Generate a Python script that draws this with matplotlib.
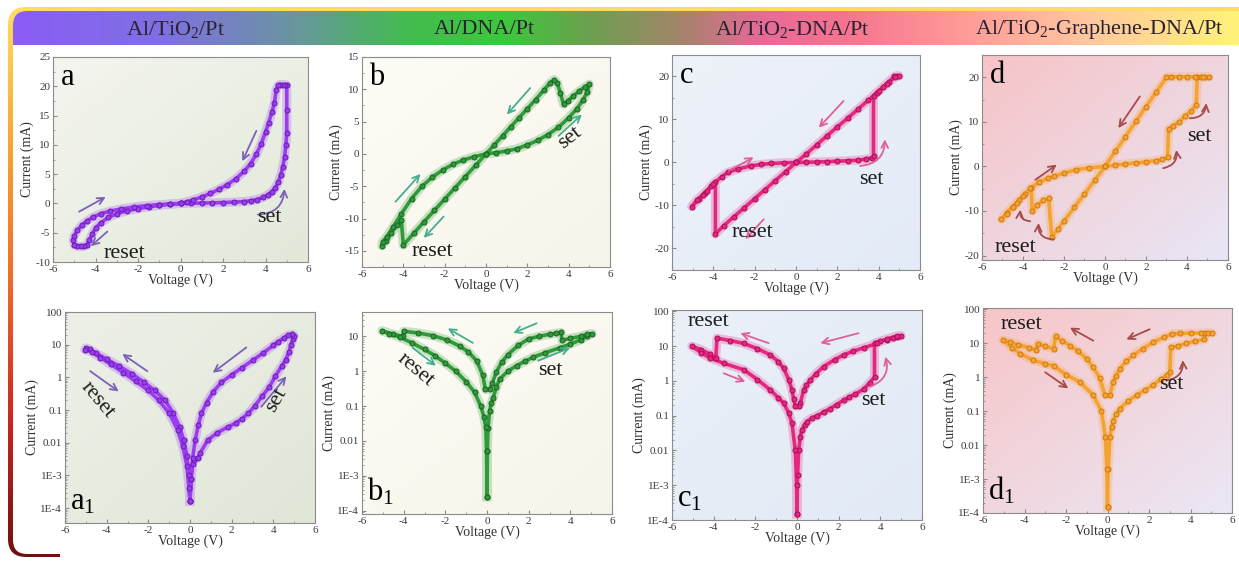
import matplotlib.pyplot as plt
import numpy as np
from matplotlib.colors import LinearSegmentedColormap
from matplotlib.patches import FancyBboxPatch, Rectangle
from matplotlib.ticker import MultipleLocator, LogLocator, NullFormatter

plt.rcParams['font.family'] = ['Liberation Serif', 'DejaVu Serif']
plt.rcParams['mathtext.fontset'] = 'custom'
plt.rcParams['mathtext.rm'] = 'Liberation Serif'
plt.rcParams['mathtext.it'] = 'Liberation Serif:italic'
plt.rcParams['axes.unicode_minus'] = False

W, H = 1239, 561

# ---------------------------------------------------------------- data
titles = ['Al/TiO$_2$/Pt', 'Al/DNA/Pt', 'Al/TiO$_2$-DNA/Pt', 'Al/TiO$_2$-Graphene-DNA/Pt']

# full voltage sweeps, current in mA (linear panels)
a_volt = [0, 0.5, 1.0, 1.5, 2.0, 2.5, 3.0, 3.3, 3.6, 3.9, 4.1, 4.3, 4.45, 4.6, 4.72, 4.82, 4.9, 4.96, 5.0, 5.0, 5.0,
          4.9, 4.8, 4.7, 4.6,
          4.5, 4.42, 4.3, 4.15, 4.0, 3.8, 3.57, 3.3, 3.0, 2.6, 2.2, 1.8, 1.4, 1.0, 0.6, 0.3, 0.0,
          -0.5, -1.0, -1.5, -2.0, -2.5, -3.0, -3.4, -3.75, -4.0, -4.15, -4.3, -4.4,
          -4.55, -4.7, -4.85, -5.0,
          -5.05, -5.0, -4.85, -4.65, -4.4, -4.1, -3.75, -3.3, -2.8, -2.2, -1.6, -1.0, -0.5, 0.0]
a_curr = [0, 0.03, 0.07, 0.1, 0.15, 0.22, 0.32, 0.45, 0.65, 1.05, 1.45, 2.0, 2.6, 3.6, 4.9, 6.3, 8.0, 10.0, 12.0, 16.0, 20.2,
          20.3, 20.3, 20.3, 20.2,
          19.4, 17.1, 15.6, 13.8, 12.2, 10.2, 8.4, 6.8, 5.5, 4.2, 3.2, 2.4, 1.7, 1.1, 0.6, 0.3, 0.0,
          -0.15, -0.35, -0.6, -0.9, -1.25, -1.75, -2.4, -3.3, -4.2, -5.2, -6.3, -7.1,
          -7.3, -7.35, -7.3, -7.1,
          -6.3, -5.5, -4.6, -3.7, -3.0, -2.3, -1.75, -1.3, -0.95, -0.62, -0.38, -0.2, -0.08, 0.0]

b_volt = [0, 0.5, 1.0, 1.5, 2.0, 2.5, 3.0, 3.5, 4.0, 4.4, 4.7, 4.9, 5.0,
          4.8, 4.5, 4.2, 3.95, 3.75, 3.6, 3.45, 3.3, 3.1, 2.8, 2.4, 2.0, 1.6, 1.2, 0.8, 0.4, 0.0,
          -0.5, -1.0, -1.5, -2.0, -2.5, -3.0, -3.5, -4.0, -4.1, -4.3, -4.6, -4.85, -5.05,
          -5.0, -4.8, -4.5, -4.1, -3.6, -3.1, -2.6, -2.1, -1.6, -1.1, -0.6, 0.0]
b_curr = [0, 0.2, 0.45, 0.8, 1.4, 2.1, 3.0, 4.1, 5.6, 7.0, 8.4, 9.6, 10.8,
          10.4, 9.7, 8.9, 8.2, 7.7, 9.4, 11.0, 11.5, 11.0, 9.9, 8.4, 7.0, 5.6, 4.2, 2.8, 1.4, 0.0,
          -1.75, -3.5, -5.25, -7.0, -8.75, -10.5, -12.3, -14.1, -10.2, -11.0, -12.3, -13.4, -14.2,
          -13.6, -12.8, -11.3, -9.3, -6.9, -5.0, -3.6, -2.5, -1.6, -0.95, -0.45, 0.0]

c_volt = [0, 0.5, 1.0, 1.5, 2.0, 2.5, 3.0, 3.4, 3.7, 3.75, 3.75, 3.9, 4.2, 4.5, 4.75, 4.9, 5.0,
          4.8, 4.4, 4.0, 3.5, 3.0, 2.5, 2.0, 1.5, 1.0, 0.5, 0.0,
          -0.5, -1.0, -1.5, -2.0, -2.5, -3.0, -3.5, -3.9, -3.9, -4.1, -4.4, -4.7, -5.05,
          -4.8, -4.5, -4.3, -4.0, -3.6, -3.3, -2.8, -2.2, -1.7, -1.2, -0.6, 0.0]
c_curr = [0, 0.05, 0.12, 0.2, 0.3, 0.4, 0.55, 0.8, 1.1, 1.4, 15.5, 16.2, 17.5, 18.8, 20.0, 20.2, 20.1,
          19.9, 18.3, 16.6, 14.5, 12.4, 10.3, 8.3, 6.2, 4.1, 2.0, 0.0,
          -2.1, -4.2, -6.3, -8.4, -10.5, -12.6, -14.7, -16.6, -4.5, -5.5, -7.0, -8.5, -10.3,
          -8.8, -7.5, -6.6, -5.0, -3.3, -2.3, -1.5, -0.8, -0.45, -0.23, -0.08, 0.0]

d_volt = [0, 0.5, 1.0, 1.5, 2.0, 2.5, 2.8, 3.05, 3.1, 3.3, 3.6, 3.9, 4.2, 4.45, 4.5, 4.7, 4.9, 5.05,
          4.8, 4.4, 4.0, 3.6, 3.2, 3.0, 2.5, 2.0, 1.5, 1.0, 0.5, 0.0,
          -0.5, -1.0, -1.5, -2.0, -2.3, -2.6, -2.75, -3.0, -3.3, -3.55, -3.6, -3.9, -4.2, -4.5, -4.8, -5.05,
          -4.8, -4.5, -4.3, -4.0, -3.65, -3.2, -2.8, -2.5, -2.0, -1.4, -0.8, 0.0]
d_curr = [0, 0.3, 0.55, 0.75, 1.0, 1.3, 1.6, 2.0, 8.4, 9.0, 10.0, 11.2, 12.5, 13.8, 20.0, 20.1, 20.1, 20.1,
          20.1, 20.1, 20.1, 20.1, 20.1, 20.0, 16.7, 13.4, 10.1, 6.7, 3.4, 0.0,
          -3.1, -6.2, -9.2, -12.3, -14.1, -15.8, -7.1, -7.6, -8.6, -10.0, -4.9, -6.3, -7.6, -9.0, -10.4, -11.9,
          -10.6, -9.2, -8.2, -6.6, -4.9, -3.5, -2.7, -2.2, -1.5, -0.75, -0.35, 0.0]

# |current| in mA for the semi-log panels
a1_volt = [0.0, 0.05, 0.12, 0.2, 0.37, 0.5, 0.85, 1.3, 1.8, 2.2, 2.5, 2.8, 3.1, 3.45, 3.8, 4.1, 4.4, 4.6, 4.75, 4.85, 4.95, 5.0,
           4.9, 4.7, 4.5, 4.2, 4.0, 3.5, 3.0, 2.5, 2.0, 1.5, 1.1, 0.8, 0.55, 0.4, 0.25, 0.13, 0.05, 0.0,
           -0.05, -0.15, -0.3, -0.5, -0.8, -1.2, -1.7, -2.2, -2.8, -3.4, -4.0, -4.5, -4.8, -5.0,
           -5.05, -4.7, -4.3, -3.8, -3.2, -2.6, -2.0, -1.5, -1.0, -0.6, -0.35, -0.15, -0.05, 0.0]
a1_curr = [1.6e-4, 8e-4, 2.2e-3, 3e-3, 3.5e-3, 5e-3, 0.012, 0.02, 0.03, 0.04, 0.055, 0.08, 0.13, 0.26, 0.5, 1.1, 2.2, 3.5, 6.0, 10.0, 15.0, 19.0,
           20.5, 19.5, 16.0, 12.0, 9.5, 5.5, 3.3, 2.0, 1.2, 0.7, 0.35, 0.17, 0.08, 0.035, 0.012, 3.5e-3, 8e-4, 1.6e-4,
           1e-3, 4e-3, 0.012, 0.03, 0.08, 0.2, 0.4, 0.7, 1.3, 2.2, 3.6, 5.5, 7.2, 8.0,
           7.0, 6.0, 4.0, 2.5, 1.4, 0.75, 0.4, 0.2, 0.08, 0.025, 8e-3, 2e-3, 4e-4, 1.6e-4]

b1_volt = [0.0, 0.02, 0.05, 0.12, 0.2, 0.29, 0.45, 0.61, 1.0, 1.42, 1.8, 2.2, 2.8, 3.5, 4.0, 4.5, 4.8, 5.05,
           4.8, 4.5, 4.0, 3.6, 3.55, 3.3, 3.0, 2.5, 2.0, 1.5, 1.0, 0.7, 0.45, 0.25, 0.12,
           -0.08, -0.2, -0.5, -0.9, -1.3, -1.9, -2.6, -3.3, -4.0, -4.05, -4.5, -5.05,
           -4.7, -4.2, -3.6, -3.0, -2.5, -2.0, -1.5, -1.0, -0.6, -0.3, -0.15, -0.06, -0.02, 0.0]
b1_curr = [2.5e-4, 5e-3, 0.024, 0.07, 0.12, 0.17, 0.35, 0.6, 1.0, 1.45, 1.9, 2.5, 3.4, 4.7, 6.0, 8.0, 10.0, 12.0,
           11.5, 10.0, 8.8, 7.7, 13.0, 12.2, 11.5, 10.0, 8.5, 5.5, 3.0, 1.8, 0.95, 0.45, 0.3,
           0.3, 0.76, 2.0, 3.6, 5.2, 7.8, 10.5, 12.5, 14.0, 10.0, 11.5, 14.5,
           12.0, 9.5, 6.5, 4.2, 2.8, 1.7, 1.0, 0.5, 0.25, 0.1, 0.05, 0.025, 5e-3, 2.5e-4]

c1_volt = [0.0, 0.03, 0.08, 0.16, 0.24, 0.36, 0.48, 0.7, 0.96, 1.3, 1.6, 1.9, 2.24, 2.5, 2.8, 3.2, 3.5, 3.72, 3.72, 4.0, 4.3, 4.6, 4.8, 5.0,
           4.8, 4.3, 3.84, 3.2, 2.7, 2.24, 1.8, 1.28, 0.9, 0.64, 0.45, 0.32, 0.16, 0.08,
           -0.08, -0.16, -0.24, -0.4, -0.64, -0.9, -1.28, -1.9, -2.56, -3.2, -3.84, -3.9, -4.2, -4.6, -5.05,
           -4.6, -4.16, -3.5, -2.56, -1.9, -1.28, -0.9, -0.64, -0.4, -0.24, -0.08, -0.02, 0.0]
c1_curr = [1.5e-4, 2e-3, 0.01, 0.025, 0.04, 0.055, 0.068, 0.085, 0.1, 0.13, 0.16, 0.21, 0.28, 0.34, 0.42, 0.58, 0.9, 1.3, 12.3, 14.0, 15.5, 17.5, 19.0, 20.0,
           19.5, 16.0, 12.0, 9.0, 7.2, 5.6, 4.1, 2.6, 1.6, 1.07, 0.75, 0.55, 0.23, 0.19,
           0.19, 0.3, 0.55, 1.1, 2.3, 3.6, 5.6, 8.5, 12.0, 14.5, 17.0, 4.5, 6.0, 8.0, 10.0,
           6.5, 4.5, 3.2, 2.1, 1.1, 0.55, 0.33, 0.23, 0.12, 0.06, 0.01, 1e-3, 1.5e-4]

d1_volt = [0.0, 0.03, 0.11, 0.2, 0.27, 0.4, 0.6, 1.0, 1.4, 1.8, 2.2, 2.6, 2.85, 3.0, 3.05, 3.4, 3.8, 4.2, 4.67, 4.7, 4.85, 5.05,
           4.5, 4.0, 3.5, 3.1, 2.7, 2.2, 1.7, 1.23, 0.9, 0.6, 0.4, 0.27, 0.11,
           -0.13, -0.37, -0.7, -1.0, -1.4, -1.8, -2.2, -2.5, -2.6, -3.0, -3.35, -3.45, -3.8, -4.3, -4.7, -5.05,
           -4.6, -4.2, -3.6, -3.0, -2.6, -2.0, -1.33, -0.69, -0.29, -0.1, -0.03, 0.0]
d1_curr = [1.5e-4, 2e-3, 0.017, 0.035, 0.05, 0.08, 0.12, 0.2, 0.3, 0.42, 0.6, 0.9, 1.15, 1.43, 7.6, 8.5, 10.0, 11.5, 13.0, 20.0, 20.0, 20.0,
           20.0, 20.0, 19.5, 19.0, 15.0, 10.7, 7.0, 4.4, 3.0, 1.8, 1.1, 0.72, 0.3,
           0.3, 0.93, 2.0, 3.5, 5.8, 8.5, 12.0, 16.0, 7.0, 8.3, 9.8, 6.5, 7.5, 9.0, 11.0, 12.5,
           7.5, 5.0, 3.2, 2.5, 2.2, 1.2, 0.72, 0.3, 0.1, 0.017, 2e-3, 1.5e-4]

# ---------------------------------------------------------------- figure
fig = plt.figure(figsize=(W / 100, H / 100), dpi=100)
fig.patch.set_facecolor('white')

bg = fig.add_axes([0, 0, 1, 1], zorder=0)
bg.set_xlim(0, W)
bg.set_ylim(H, 0)
bg.axis('off')

# rounded frame with a warm vertical gradient along its edge
frame_cmap = LinearSegmentedColormap.from_list(
    'frame', ['#ffdd60', '#f7a531', '#ef6a2a', '#c8281f', '#701010'])
frame_clip = FancyBboxPatch((8, 7), 1300, 550, boxstyle='round,pad=0,rounding_size=18',
                            transform=bg.transData, facecolor='none', edgecolor='none')
bg.add_patch(frame_clip)
fimg = bg.imshow(np.linspace(0, 1, 256)[:, None], cmap=frame_cmap, aspect='auto',
                 extent=(8, W, 557, 7), zorder=1)
fimg.set_clip_path(frame_clip)
bg.add_patch(FancyBboxPatch((13, 11), 1300, 543, boxstyle='round,pad=0,rounding_size=14',
                            facecolor='white', edgecolor='none', zorder=2))
bg.add_patch(Rectangle((60, 551), W, 12, facecolor='white', edgecolor='none', zorder=2))

# header band
band_cmap = LinearSegmentedColormap.from_list('band', [
    (0.0, '#8b5cf6'), (0.12, '#7f70e2'), (0.22, '#6c92a6'), (0.32, '#44bb50'),
    (0.40, '#3cc83c'), (0.47, '#6ca050'), (0.54, '#a08668'), (0.61, '#e66a98'),
    (0.68, '#f67490'), (0.78, '#ff9c98'), (0.88, '#ffc8a0'), (1.0, '#fff27a')])
band_clip = FancyBboxPatch((13, 11), 1300, 120, boxstyle='round,pad=0,rounding_size=14',
                           transform=bg.transData, facecolor='none', edgecolor='none')
bg.add_patch(band_clip)
bimg = bg.imshow(np.linspace(0, 1, 512)[None, :], cmap=band_cmap, aspect='auto',
                 extent=(13, W, 45, 11), zorder=3)
bimg.set_clip_path(band_clip)
for xc, t in zip([176, 484, 792, 1099], titles):
    bg.text(xc, 29, t, ha='center', va='center', fontsize=16, color='#2a2230', zorder=4)


def panel(box, colors):
    x0, y0, x1, y1 = box
    pos = [x0 / W, 1 - y1 / H, (x1 - x0) / W, (y1 - y0) / H]
    back = fig.add_axes(pos, zorder=1)
    yy, xx = np.mgrid[0:1:64j, 0:1:64j]
    cmap = LinearSegmentedColormap.from_list('bg', colors)
    back.imshow(cmap((xx + yy) / 2), extent=(0, 1, 0, 1), aspect='auto')
    back.axis('off')
    ax = fig.add_axes(pos, zorder=2)
    ax.patch.set_alpha(0)
    for s in ax.spines.values():
        s.set_color('#8c8c8c')
        s.set_linewidth(0.8)
    ax.set_xlim(-6, 6)
    ax.set_xticks([-6, -4, -2, 0, 2, 4, 6])
    ax.xaxis.set_minor_locator(MultipleLocator(1))
    ax.tick_params(which='both', direction='in', colors='#8c8c8c', labelcolor='#3a3a3a',
                   labelsize=8, pad=2)
    ax.tick_params(which='major', length=3)
    ax.tick_params(which='minor', length=1.6)
    ax.set_xlabel('Voltage (V)', fontsize=10, color='#333333', labelpad=0)
    ax.set_ylabel('Current (mA)', fontsize=10, color='#333333', labelpad=1)
    return ax


def sweep(ax, v, i, color, edge):
    ax.plot(v, i, color=color, lw=6.5, alpha=0.25, solid_joinstyle='round', zorder=2)
    ax.plot(v, i, color=color, lw=2.6, solid_joinstyle='round', zorder=3)
    ax.plot(v, i, ls='none', marker='o', ms=3.6, mfc=color, mec=edge, mew=0.7, zorder=3)


def arrow(ax, start, end, color, rad=0.0):
    ax.annotate('', xy=end, xytext=start, zorder=4,
                arrowprops=dict(arrowstyle='->', color=color, lw=1.3, mutation_scale=12,
                                shrinkA=0, shrinkB=0, connectionstyle=f'arc3,rad={rad}'))


def label(ax, x, y, s, rot=0):
    ax.text(x, y, s, fontsize=16, color='#1c1c1c', ha='center', va='center',
            rotation=rot, rotation_mode='anchor', zorder=5)


log_ticks = [1e-4, 1e-3, 0.01, 0.1, 1, 10, 100]
log_labels = ['1E-4', '1E-3', '0.01', '0.1', '1', '10', '100']


def log_axis(ax, lo, hi):
    ax.set_yscale('log')
    ax.set_ylim(lo, hi)
    ticks = [t for t in log_ticks if lo * 0.99 <= t <= hi * 1.01]
    ax.set_yticks(ticks)
    ax.set_yticklabels([log_labels[log_ticks.index(t)] for t in ticks])
    ax.yaxis.set_minor_locator(LogLocator(subs=np.arange(2, 10), numticks=100))
    ax.yaxis.set_minor_formatter(NullFormatter())


purple, purple_e, purple_arr = '#9a3cf0', '#6a1cb4', '#7c62b6'
green, green_e, green_arr = '#2f9a3a', '#1b6423', '#45ae8e'
pink, pink_e, pink_arr = '#e5277f', '#a80f5a', '#e0609a'
orange, orange_e, orange_arr = '#f5a230', '#d07a10', '#a84a4a'

# ---- a
ax = panel((53, 57, 308, 262), ['#f4f5ef', '#e2e9d9'])
sweep(ax, a_volt, a_curr, purple, purple_e)
ax.set_ylim(-10, 25)
ax.yaxis.set_major_locator(MultipleLocator(5))
ax.yaxis.set_minor_locator(MultipleLocator(2.5))
arrow(ax, (-4.77, -1.4), (-3.52, 1.1), purple_arr)
arrow(ax, (-3.44, -4.8), (-4.22, -7.3), purple_arr)
arrow(ax, (3.57, 12.4), (2.91, 7.2), purple_arr)
arrow(ax, (3.64, -1.9), (4.89, 2.5), purple_arr, 0.45)
label(ax, 4.2, -2.4, 'set')
label(ax, -2.65, -8.5, 'reset')
ax.text(0.03, 0.97, 'a', transform=ax.transAxes, fontsize=22, va='top', ha='left', zorder=5)

# ---- b
ax = panel((362, 57, 610, 267), ['#fdfcf6', '#f7f4e9'])
sweep(ax, b_volt, b_curr, green, green_e)
ax.set_ylim(-17.5, 15)
ax.yaxis.set_major_locator(MultipleLocator(5))
ax.yaxis.set_minor_locator(MultipleLocator(2.5))
arrow(ax, (2.14, 10.2), (1.01, 6.1), green_arr)
arrow(ax, (3.51, 2.8), (4.64, 6.1), green_arr)
arrow(ax, (-4.38, -7.4), (-3.17, -3.1), green_arr)
arrow(ax, (-2.05, -9.7), (-3.01, -13.0), green_arr)
label(ax, 4.05, 2.5, 'set', 38)
label(ax, -2.6, -15.1, 'reset')
ax.text(0.03, 0.97, 'b', transform=ax.transAxes, fontsize=22, va='top', ha='left', zorder=5)

# ---- c
ax = panel((672, 55, 920, 270), ['#eef2f9', '#e3ebf7'])
sweep(ax, c_volt, c_curr, pink, pink_e)
ax.set_ylim(-25, 25)
ax.yaxis.set_major_locator(MultipleLocator(10))
ax.yaxis.set_minor_locator(MultipleLocator(5))
arrow(ax, (2.3, 14.3), (1.1, 8.1), pink_arr)
arrow(ax, (3.1, -0.8), (4.3, 5.4), pink_arr, 0.45)
arrow(ax, (-3.25, -1.9), (-2.05, 1.2), pink_arr)
arrow(ax, (-1.56, -13.2), (-2.45, -17.8), pink_arr)
label(ax, 3.67, -3.9, 'set')
label(ax, -2.13, -16.3, 'reset')
ax.text(0.03, 0.97, 'c', transform=ax.transAxes, fontsize=22, va='top', ha='left', zorder=5)

# ---- d
ax = panel((982, 55, 1228, 260), ['#f6c4c7', '#e9e6f5'])
sweep(ax, d_volt, d_curr, orange, orange_e)
ax.set_ylim(-21, 25)
ax.yaxis.set_major_locator(MultipleLocator(10))
ax.yaxis.set_minor_locator(MultipleLocator(5))
arrow(ax, (1.7, 15.7), (0.65, 8.6), orange_arr)
arrow(ax, (2.84, -0.4), (3.48, 3.7), orange_arr, 0.45)
arrow(ax, (4.13, 10.8), (4.94, 14.2), orange_arr, 0.45)
arrow(ax, (-3.4, -3.0), (-2.35, 0.4), orange_arr)
arrow(ax, (-3.65, -12.3), (-4.13, -9.7), orange_arr, -0.5)
arrow(ax, (-2.51, -16.4), (-3.24, -12.7), orange_arr, -0.5)
label(ax, 4.62, 6.7, 'set')
label(ax, -4.38, -18.3, 'reset')
ax.text(0.03, 0.97, 'd', transform=ax.transAxes, fontsize=22, va='top', ha='left', zorder=5)

# ---- a1
ax = panel((65, 312, 315, 523), ['#eef0e8', '#e0e7d7'])
sweep(ax, a1_volt, a1_curr, purple, purple_e)
log_axis(ax, 3.5e-5, 100)
arrow(ax, (-2.05, 1.55), (-3.25, 5.2), purple_arr)
arrow(ax, (-4.79, 1.55), (-3.42, 0.37), purple_arr)
arrow(ax, (2.7, 8.2), (1.09, 1.38), purple_arr)
arrow(ax, (3.42, 0.126), (4.63, 1.08), purple_arr)
label(ax, -4.45, 0.2, 'reset', -50)
label(ax, 4.15, 0.2, 'set', 60)
ax.text(0.02, 0.03, r'$\mathregular{a_1}$', transform=ax.transAxes, fontsize=22,
        va='bottom', ha='left', zorder=5)

# ---- b1
ax = panel((362, 312, 612, 514), ['#fdfcf6', '#f7f4e9'])
sweep(ax, b1_volt, b1_curr, green, green_e)
log_axis(ax, 8e-5, 50)
arrow(ax, (-0.68, 6.5), (-1.88, 17), green_arr)
arrow(ax, (2.38, 23.7), (1.26, 12.4), green_arr)
arrow(ax, (-3.57, 4.7), (-2.45, 1.44), green_arr)
arrow(ax, (2.46, 2.0), (3.99, 4.7), green_arr)
label(ax, -3.45, 1.1, 'reset', -40)
label(ax, 3.03, 1.05, 'set')
ax.text(0.02, 0.03, r'$\mathregular{b_1}$', transform=ax.transAxes, fontsize=22,
        va='bottom', ha='left', zorder=5)

# ---- c1
ax = panel((672, 310, 922, 520), ['#ebf0f8', '#e2eaf6'])
sweep(ax, c1_volt, c1_curr, pink, pink_e)
log_axis(ax, 1e-4, 110)
arrow(ax, (-1.36, 12.2), (-2.72, 23.7), pink_arr)
arrow(ax, (2.96, 23.7), (1.12, 12.2), pink_arr)
arrow(ax, (-3.52, 1.66), (-2.48, 0.95), pink_arr)
arrow(ax, (3.52, 0.69), (4.24, 5.0), pink_arr, 0.45)
label(ax, -4.24, 51, 'reset')
label(ax, 3.68, 0.28, 'set')
ax.text(0.02, 0.03, r'$\mathregular{c_1}$', transform=ax.transAxes, fontsize=22,
        va='bottom', ha='left', zorder=5)

# ---- d1
ax = panel((983, 308, 1232, 513), ['#f7c6c8', '#ebe7f5'])
sweep(ax, d1_volt, d1_curr, orange, orange_e)
log_axis(ax, 1e-4, 110)
arrow(ax, (-0.69, 12), (-1.81, 29), orange_arr)
arrow(ax, (2.03, 26), (0.91, 13), orange_arr)
arrow(ax, (-3.0, 1.4), (-1.89, 0.47), orange_arr)
arrow(ax, (2.83, 0.81), (3.63, 3.2), orange_arr, 0.45)
label(ax, -4.13, 37, 'reset')
label(ax, 3.07, 0.6, 'set')
ax.text(0.02, 0.03, r'$\mathregular{d_1}$', transform=ax.transAxes, fontsize=22,
        va='bottom', ha='left', zorder=5)

fig.savefig('out.png', dpi=100)
